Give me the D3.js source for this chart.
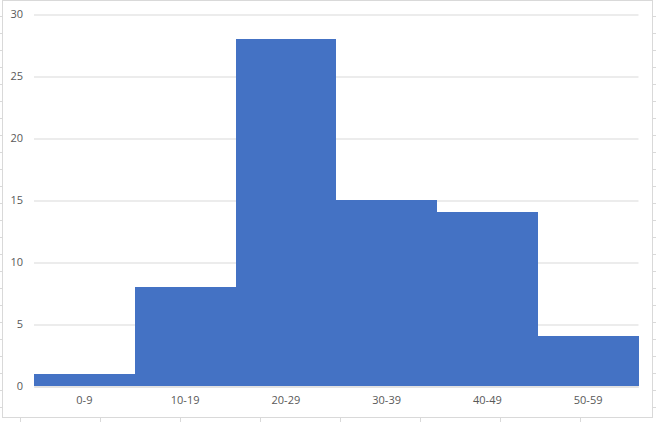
<!DOCTYPE html>
<html>
<head>
<meta charset="utf-8">
<script src="https://cdn.jsdelivr.net/npm/d3@7"></script>
<style>
  html, body { margin: 0; padding: 0; background: #fff; }
  svg { display: block; }
  text { font-family: "Open Sans", "Noto Sans", sans-serif; font-size: 11px; fill: #595959; }
</style>
</head>
<body>
<svg id="chart" width="656" height="422"></svg>
<script>
const categories = ["0-9", "10-19", "20-29", "30-39", "40-49", "50-59"];
const counts = [1, 8, 28, 15, 14, 4];
const yTicks = [0, 5, 10, 15, 20, 25, 30];

const W = 656, H = 422;
const svg = d3.select("#chart");

// spreadsheet cell-grid stubs outside the chart frame
const rowYs = d3.range(16.5, H, 17);
const colXs = d3.range(20.5, W, 80);
const stubs = svg.append("g").attr("stroke", "#d9d9d9").attr("stroke-width", 1);
stubs.selectAll("line.l").data(rowYs).join("line").attr("class", "l")
  .attr("x1", 0).attr("x2", 2).attr("y1", d => d).attr("y2", d => d);
stubs.selectAll("line.r").data(rowYs).join("line").attr("class", "r")
  .attr("x1", 653).attr("x2", W).attr("y1", d => d).attr("y2", d => d);
stubs.selectAll("line.b").data(colXs).join("line").attr("class", "b")
  .attr("x1", d => d).attr("x2", d => d).attr("y1", 418).attr("y2", H);

// chart frame
svg.append("rect")
  .attr("x", 2.5).attr("y", 0.5).attr("width", 650).attr("height", 417)
  .attr("fill", "#fff").attr("stroke", "#d9d9d9").attr("stroke-width", 1);

const x = d3.scaleBand().domain(categories).range([34, 638.5]).padding(0);
const y = d3.scaleLinear().domain([0, 30]).range([386, 14]);

// y axis with gridlines
const yAxis = svg.append("g")
  .attr("transform", "translate(34,0.5)")
  .call(d3.axisLeft(y).tickValues(yTicks).tickFormat(d3.format("d"))
    .tickSize(-(638.5 - 34)).tickPadding(11));
yAxis.select(".domain").remove();
yAxis.selectAll(".tick line").attr("stroke", "#d9d9d9");
yAxis.selectAll(".tick text").attr("fill", "#595959")
  .style("font-family", '"Open Sans", "Noto Sans", sans-serif').style("font-size", "11px")
  .attr("dy", "0.3em");

// bars (touching, no gaps)
svg.append("g").attr("shape-rendering", "crispEdges")
  .selectAll("rect").data(categories).join("rect")
  .attr("x", d => Math.round(x(d)))
  .attr("y", (d, i) => y(counts[i]))
  .attr("width", d => Math.round(x(d) + x.bandwidth()) - Math.round(x(d)))
  .attr("height", (d, i) => y(0) - y(counts[i]))
  .attr("fill", "#4472C4");

// x axis
const xAxis = svg.append("g")
  .attr("transform", "translate(0,386.5)")
  .call(d3.axisBottom(x).tickSize(0).tickPadding(10));
xAxis.select(".domain").attr("stroke", "#d9d9d9");
xAxis.selectAll(".tick text").attr("fill", "#595959")
  .style("font-family", '"Open Sans", "Noto Sans", sans-serif').style("font-size", "11px");
</script>
</body>
</html>
